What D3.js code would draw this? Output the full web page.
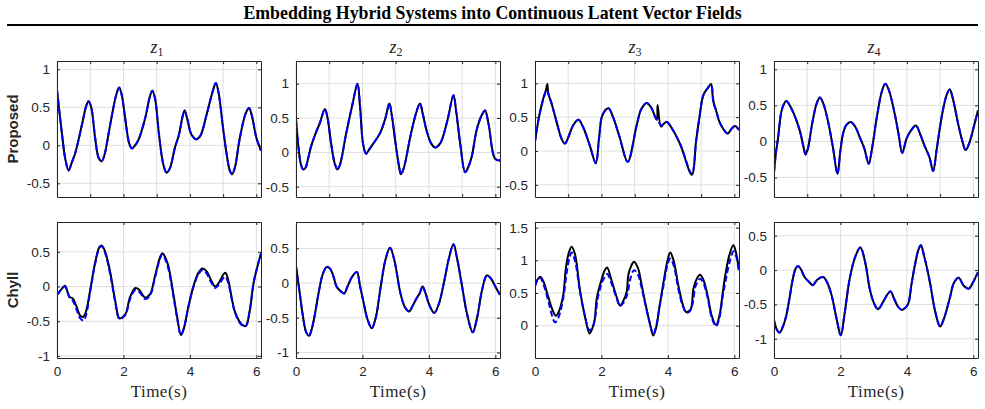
<!DOCTYPE html>
<html>
<head>
<meta charset="utf-8">
<script src="https://cdn.jsdelivr.net/npm/d3@7"></script>
<style>
  body { margin: 0; background: #fff; }
  svg { display: block; }
</style>
</head>
<body>
<div id="chart"></div>
<script>
// text
const title = "Embedding Hybrid Systems into Continuous Latent Vector Fields"
const rowNames = ["Proposed", "Chyll"]
const latentIdx = ["1", "2", "3", "4"]

// ticks
const timeTicksTop = [0, 1, 2, 3, 4, 5, 6]
const timeTicksBottom = [0, 2, 4, 6]
const yTicksTop = [[-0.5, 0, 0.5, 1], [-0.5, 0, 0.5, 1], [-0.5, 0, 0.5, 1], [-0.5, 0, 0.5, 1]]
const yTicksBottom = [[-1, -0.5, 0, 0.5], [-1, -0.5, 0, 0.5], [0, 0.5, 1, 1.5], [-1, -0.5, 0, 0.5]]
const yLimTop = [[-0.68, 1.11], [-0.65, 1.33], [-0.68, 1.33], [-0.77, 1.115]]
const yLimBottom = [[-1.03, 0.93], [-1.08, 0.88], [-0.495, 1.587], [-1.28, 0.70]]
const timeMax = 6.14

// Proposed row: ground truth [t, z]
const propTrue1 = [[0,0.73],[0.07,0.45],[0.15,0.15],[0.25,-0.18],[0.35,-0.33],[0.45,-0.22],[0.55,-0.1],[0.75,0.27],[0.88,0.52],[0.95,0.58],[1.03,0.5],[1.15,0.09],[1.25,-0.16],[1.34,-0.21],[1.42,-0.14],[1.6,0.27],[1.78,0.66],[1.87,0.76],[1.95,0.66],[2.05,0.36],[2.17,0.03],[2.25,-0.04],[2.35,0.0],[2.45,0.07],[2.65,0.35],[2.8,0.65],[2.87,0.72],[2.95,0.62],[3.07,0.14],[3.2,-0.25],[3.3,-0.36],[3.4,-0.3],[3.55,-0.03],[3.67,0.14],[3.77,0.36],[3.84,0.46],[3.92,0.35],[4.05,0.14],[4.2,0.08],[4.32,0.13],[4.5,0.40],[4.68,0.70],[4.78,0.82],[4.86,0.7],[5.0,0.22],[5.1,-0.1],[5.2,-0.33],[5.27,-0.38],[5.35,-0.3],[5.5,0.09],[5.68,0.42],[5.78,0.49],[5.86,0.4],[6.0,0.1],[6.14,-0.07]]
const propTrue2 = [[0,0.48],[0.08,0.05],[0.15,-0.18],[0.22,-0.25],[0.29,-0.22],[0.34,-0.14],[0.45,0.08],[0.57,0.25],[0.72,0.43],[0.87,0.63],[0.95,0.5],[1.05,0.15],[1.17,-0.17],[1.25,-0.25],[1.33,-0.17],[1.5,0.25],[1.7,0.7],[1.85,1.0],[1.93,0.65],[2.02,0.12],[2.11,-0.02],[2.2,0.04],[2.33,0.13],[2.53,0.28],[2.68,0.48],[2.81,0.71],[2.88,0.55],[3.0,0.12],[3.1,-0.2],[3.16,-0.32],[3.25,-0.22],[3.45,0.25],[3.62,0.58],[3.73,0.71],[3.82,0.55],[3.94,0.30],[4.08,0.12],[4.19,0.07],[4.34,0.13],[4.55,0.45],[4.74,0.83],[4.82,0.6],[4.95,0.1],[5.09,-0.29],[5.18,-0.22],[5.29,-0.06],[5.44,0.33],[5.6,0.55],[5.69,0.61],[5.8,0.4],[5.99,-0.09],[6.14,-0.12]]
const propTrue3 = [[0,0.14],[0.12,0.5],[0.25,0.78],[0.33,0.9],[0.37,0.99],[0.4,0.85],[0.5,0.7],[0.65,0.43],[0.8,0.18],[0.9,0.11],[1.0,0.2],[1.15,0.38],[1.31,0.46],[1.45,0.35],[1.65,0.08],[1.83,-0.18],[1.93,0.2],[2.03,0.53],[2.21,0.63],[2.35,0.5],[2.55,0.2],[2.79,-0.16],[3.06,0.38],[3.2,0.62],[3.36,0.71],[3.5,0.64],[3.62,0.5],[3.67,0.46],[3.69,0.68],[3.79,0.36],[3.87,0.4],[3.97,0.43],[4.1,0.35],[4.37,0.1],[4.72,-0.35],[4.85,0.15],[4.95,0.5],[5.07,0.83],[5.2,0.93],[5.3,0.99],[5.36,0.75],[5.45,0.6],[5.57,0.41],[5.8,0.26],[5.92,0.33],[6.02,0.37],[6.14,0.31]]
const propTrue4 = [[0,-0.43],[0.06,-0.15],[0.12,0.04],[0.22,0.41],[0.3,0.52],[0.37,0.56],[0.52,0.46],[0.77,0.16],[0.88,-0.06],[0.95,-0.18],[1.02,-0.1],[1.15,0.25],[1.28,0.52],[1.38,0.61],[1.48,0.53],[1.63,0.27],[1.78,-0.1],[1.91,-0.45],[2.0,-0.12],[2.08,0.11],[2.18,0.23],[2.31,0.27],[2.45,0.2],[2.58,0.06],[2.72,-0.1],[2.85,-0.31],[2.95,-0.1],[3.1,0.35],[3.25,0.7],[3.35,0.8],[3.45,0.72],[3.63,0.39],[3.75,0.1],[3.86,-0.16],[3.99,0.04],[4.12,0.15],[4.27,0.22],[4.4,0.1],[4.54,-0.07],[4.68,-0.22],[4.79,-0.41],[4.9,-0.1],[5.05,0.35],[5.2,0.65],[5.29,0.72],[5.38,0.6],[5.54,0.25],[5.66,0.02],[5.77,-0.12],[5.88,-0.02],[6.0,0.18],[6.14,0.43]]

// Proposed row: prediction (only z3 differs visibly from truth)
const propPred3 = [[0,0.14],[0.12,0.5],[0.25,0.76],[0.35,0.9],[0.42,0.82],[0.5,0.7],[0.65,0.43],[0.8,0.18],[0.9,0.11],[1.0,0.2],[1.15,0.38],[1.31,0.46],[1.45,0.35],[1.65,0.08],[1.83,-0.18],[1.93,0.2],[2.03,0.53],[2.21,0.63],[2.35,0.5],[2.55,0.2],[2.79,-0.16],[3.06,0.38],[3.2,0.62],[3.36,0.71],[3.5,0.64],[3.62,0.5],[3.7,0.44],[3.8,0.38],[3.9,0.42],[3.97,0.43],[4.1,0.35],[4.37,0.1],[4.72,-0.33],[4.85,0.15],[4.95,0.5],[5.07,0.83],[5.2,0.93],[5.3,0.97],[5.38,0.7],[5.45,0.6],[5.57,0.41],[5.8,0.26],[5.92,0.33],[6.02,0.37],[6.14,0.31]]

// Chyll row: ground truth
const chyTrue1 = [[0,-0.12],[0.1,-0.06],[0.24,0.01],[0.32,-0.08],[0.38,-0.15],[0.47,-0.17],[0.58,-0.28],[0.7,-0.42],[0.78,-0.44],[0.86,-0.38],[1.0,-0.05],[1.15,0.35],[1.28,0.57],[1.35,0.59],[1.45,0.5],[1.6,0.21],[1.75,-0.2],[1.88,-0.46],[2.0,-0.43],[2.08,-0.38],[2.2,-0.15],[2.36,-0.02],[2.48,-0.05],[2.65,-0.16],[2.8,-0.11],[2.95,0.15],[3.1,0.42],[3.17,0.48],[3.25,0.43],[3.35,0.3],[3.5,-0.1],[3.62,-0.45],[3.73,-0.70],[3.82,-0.6],[3.95,-0.3],[4.11,0.01],[4.26,0.2],[4.38,0.26],[4.5,0.22],[4.65,0.08],[4.76,0.0],[4.88,0.06],[5.0,0.17],[5.07,0.2],[5.15,0.1],[5.36,-0.37],[5.55,-0.54],[5.68,-0.57],[5.8,-0.35],[5.92,0.06],[6.05,0.32],[6.14,0.48]]
const chyTrue2 = [[0,0.24],[0.1,-0.1],[0.2,-0.45],[0.3,-0.7],[0.39,-0.76],[0.48,-0.65],[0.58,-0.42],[0.67,-0.17],[0.8,0.12],[0.92,0.23],[1.0,0.22],[1.07,0.17],[1.15,0.06],[1.22,-0.05],[1.35,-0.12],[1.45,-0.15],[1.55,-0.05],[1.7,0.1],[1.83,0.16],[1.93,-0.05],[2.03,-0.27],[2.15,-0.52],[2.28,-0.65],[2.4,-0.5],[2.55,-0.05],[2.7,0.35],[2.83,0.51],[2.95,0.35],[3.05,0.1],[3.13,-0.12],[3.28,-0.35],[3.4,-0.41],[3.52,-0.32],[3.63,-0.22],[3.72,-0.15],[3.81,-0.05],[3.9,-0.15],[4.0,-0.3],[4.16,-0.43],[4.3,-0.3],[4.45,0.0],[4.6,0.35],[4.74,0.56],[4.85,0.35],[5.0,-0.05],[5.15,-0.45],[5.32,-0.71],[5.45,-0.5],[5.6,-0.1],[5.74,0.11],[5.82,0.09],[5.89,0.05],[6.0,-0.05],[6.14,-0.17]]
const chyTrue3 = [[0,0.61],[0.08,0.71],[0.16,0.75],[0.25,0.68],[0.4,0.44],[0.52,0.25],[0.63,0.15],[0.72,0.22],[0.85,0.47],[0.93,0.88],[1.02,1.12],[1.1,1.21],[1.2,1.1],[1.36,0.52],[1.5,0.15],[1.64,-0.12],[1.72,-0.05],[1.79,0.07],[1.86,0.42],[2.0,0.7],[2.1,0.85],[2.17,0.89],[2.3,0.7],[2.45,0.45],[2.56,0.31],[2.66,0.38],[2.76,0.52],[2.81,0.78],[2.9,0.92],[2.98,0.98],[3.1,0.88],[3.2,0.65],[3.31,0.37],[3.45,0.05],[3.56,-0.15],[3.65,-0.02],[3.75,0.3],[3.87,0.67],[3.98,0.98],[4.07,1.12],[4.17,1.0],[4.32,0.6],[4.45,0.32],[4.54,0.21],[4.62,0.22],[4.7,0.27],[4.77,0.57],[4.87,0.72],[4.97,0.78],[5.07,0.7],[5.2,0.45],[5.32,0.15],[5.45,0.01],[5.55,0.15],[5.65,0.5],[5.72,0.75],[5.85,1.08],[5.97,1.23],[6.05,1.12],[6.14,0.85]]
const chyTrue4 = [[0,-0.73],[0.08,-0.86],[0.17,-0.91],[0.27,-0.82],[0.37,-0.66],[0.47,-0.4],[0.57,-0.12],[0.65,0.02],[0.72,0.06],[0.8,0.02],[0.92,-0.1],[1.05,-0.17],[1.17,-0.22],[1.3,-0.14],[1.48,-0.10],[1.6,-0.18],[1.73,-0.36],[1.88,-0.7],[2.01,-0.95],[2.12,-0.65],[2.28,-0.12],[2.45,0.2],[2.6,0.33],[2.75,0.1],[2.88,-0.27],[3.0,-0.47],[3.13,-0.57],[3.3,-0.45],[3.42,-0.35],[3.51,-0.31],[3.6,-0.4],[3.73,-0.53],[3.85,-0.58],[3.95,-0.55],[4.04,-0.49],[4.14,-0.2],[4.24,0.07],[4.35,0.3],[4.42,0.36],[4.52,0.2],[4.69,-0.17],[4.85,-0.6],[5.0,-0.82],[5.12,-0.7],[5.29,-0.41],[5.42,-0.18],[5.56,-0.11],[5.7,-0.22],[5.86,-0.27],[6.0,-0.17],[6.14,-0.03]]

// Chyll row: prediction (z1 and z3 differ visibly)
const chyPred1 = [[0,-0.12],[0.1,-0.06],[0.24,0.0],[0.32,-0.09],[0.38,-0.16],[0.47,-0.2],[0.58,-0.32],[0.7,-0.46],[0.8,-0.49],[0.88,-0.4],[1.0,-0.07],[1.15,0.33],[1.28,0.56],[1.35,0.58],[1.45,0.48],[1.6,0.18],[1.75,-0.22],[1.88,-0.47],[2.0,-0.44],[2.08,-0.39],[2.2,-0.18],[2.36,-0.05],[2.48,-0.08],[2.65,-0.18],[2.8,-0.13],[2.95,0.13],[3.1,0.4],[3.17,0.46],[3.25,0.4],[3.35,0.26],[3.5,-0.13],[3.62,-0.47],[3.73,-0.70],[3.82,-0.6],[3.95,-0.3],[4.11,0.0],[4.26,0.18],[4.38,0.24],[4.5,0.19],[4.65,0.05],[4.76,-0.02],[4.88,0.03],[5.0,0.12],[5.07,0.14],[5.15,0.06],[5.36,-0.38],[5.55,-0.55],[5.68,-0.57],[5.8,-0.35],[5.92,0.06],[6.05,0.32],[6.14,0.47]]
const chyPred3 = [[0,0.6],[0.08,0.7],[0.16,0.73],[0.25,0.64],[0.4,0.38],[0.52,0.14],[0.6,0.05],[0.7,0.12],[0.85,0.42],[0.95,0.8],[1.03,1.02],[1.1,1.12],[1.2,1.0],[1.36,0.5],[1.5,0.15],[1.64,-0.07],[1.75,0.0],[1.82,0.15],[1.9,0.45],[2.05,0.7],[2.17,0.79],[2.3,0.65],[2.45,0.43],[2.56,0.3],[2.66,0.35],[2.78,0.48],[2.86,0.7],[2.98,0.85],[3.1,0.78],[3.2,0.6],[3.31,0.35],[3.45,0.05],[3.56,-0.13],[3.65,0.0],[3.75,0.3],[3.88,0.65],[3.98,0.92],[4.07,1.03],[4.17,0.93],[4.32,0.55],[4.45,0.3],[4.56,0.2],[4.66,0.22],[4.75,0.35],[4.83,0.6],[4.97,0.72],[5.07,0.65],[5.2,0.42],[5.32,0.12],[5.45,-0.01],[5.55,0.12],[5.65,0.45],[5.75,0.72],[5.87,1.0],[5.98,1.14],[6.06,1.05],[6.14,0.82]]

const rows = [
    {truth: [propTrue1, propTrue2, propTrue3, propTrue4],
     pred: [propTrue1, propTrue2, propPred3, propTrue4],
     ylim: yLimTop, yticks: yTicksTop, xticks: timeTicksTop},
    {truth: [chyTrue1, chyTrue2, chyTrue3, chyTrue4],
     pred: [chyPred1, chyTrue2, chyPred3, chyTrue4],
     ylim: yLimBottom, yticks: yTicksBottom, xticks: timeTicksBottom}
]

const width = 985, height = 409
const panelW = 204, panelH = 136
const lefts = [57, 296, 535, 774]
const tops = [61, 222]
const axisColor = "#262626"
const sans = "'Liberation Sans', Arial, Helvetica, sans-serif"
const serif = "'Liberation Serif', 'Times New Roman', serif"

const svg = d3.select("#chart")
    .append("svg")
    .attr("width", width)
    .attr("height", height)

// title and rule
svg.append("text")
    .attr("x", 492.5)
    .attr("y", 19)
    .attr("text-anchor", "middle")
    .style("font-family", serif)
    .style("font-weight", "bold")
    .style("font-size", "17.8px")
    .text(title)
svg.append("line")
    .attr("x1", 7).attr("x2", 978)
    .attr("y1", 25).attr("y2", 25)
    .attr("stroke", "#000")
    .attr("stroke-width", 2)

const x = d3.scaleLinear().domain([0, timeMax]).range([0, panelW])

rows.forEach((row, r) => {
    // row label
    svg.append("text")
        .attr("transform", `translate(18,${tops[r] + panelH / 2}) rotate(-90)`)
        .attr("text-anchor", "middle")
        .style("font-family", sans)
        .style("font-weight", "bold")
        .style("font-size", "15px")
        .attr("fill", axisColor)
        .text(rowNames[r])

    for (let c = 0; c < 4; c++) {
        const g = svg.append("g")
            .attr("transform", `translate(${lefts[c]},${tops[r]})`)

        const y = d3.scaleLinear().domain(row.ylim[c]).range([panelH, 0])

        // grid
        g.append("g").selectAll("line")
            .data(row.xticks)
            .join("line")
            .attr("x1", d => x(d)).attr("x2", d => x(d))
            .attr("y1", 0).attr("y2", panelH)
            .attr("stroke", "#dfdfdf")
        g.append("g").selectAll("line")
            .data(row.yticks[c])
            .join("line")
            .attr("x1", 0).attr("x2", panelW)
            .attr("y1", d => y(d)).attr("y2", d => y(d))
            .attr("stroke", "#dfdfdf")

        // series
        const clipId = `clip-${r}-${c}`
        g.append("clipPath").attr("id", clipId)
            .append("rect").attr("width", panelW).attr("height", panelH)
        const line = d3.line()
            .x(d => x(d[0]))
            .y(d => y(d[1]))
            .curve(d3.curveCatmullRom.alpha(0.5))
        g.append("path")
            .datum(row.truth[c])
            .attr("clip-path", `url(#${clipId})`)
            .attr("fill", "none")
            .attr("stroke", "#000")
            .attr("stroke-width", 2)
            .attr("d", line)
        g.append("path")
            .datum(row.pred[c])
            .attr("clip-path", `url(#${clipId})`)
            .attr("fill", "none")
            .attr("stroke", "#0000ff")
            .attr("stroke-width", 2)
            .attr("stroke-dasharray", "6,3")
            .attr("d", line)

        // axes, ticks pointing inward
        g.append("g")
            .call(d3.axisLeft(y).tickValues(row.yticks[c]).tickSizeInner(-3).tickSizeOuter(0)
                .tickPadding(7).tickFormat(d => String(d)))
        g.append("g")
            .attr("transform", `translate(${panelW},0)`)
            .call(d3.axisRight(y).tickValues(row.yticks[c]).tickSizeInner(-3).tickSizeOuter(0).tickFormat(""))
        g.append("g")
            .call(d3.axisTop(x).tickValues(row.xticks).tickSizeInner(-3).tickSizeOuter(0).tickFormat(""))
        g.append("g")
            .attr("transform", `translate(0,${panelH})`)
            .call(d3.axisBottom(x).tickValues(row.xticks).tickSizeInner(-3).tickSizeOuter(0)
                .tickPadding(8).tickFormat(r === 1 ? (d => String(d)) : ""))

        g.selectAll(".domain, .tick line").attr("stroke", axisColor)
        g.selectAll(".tick text")
            .attr("fill", axisColor)
            .style("font-family", sans)
            .style("font-size", "13.5px")

        // z_i titles on top row, time label on bottom row
        if (r === 0) {
            const t = g.append("text")
                .attr("x", panelW / 2 - 2)
                .attr("y", -8)
                .attr("text-anchor", "middle")
                .style("font-family", serif)
                .style("font-size", "18px")
                .attr("fill", axisColor)
            t.append("tspan").style("font-style", "italic").text("z")
            t.append("tspan").attr("dy", 3).style("font-size", "12px").text(latentIdx[c])
        } else {
            g.append("text")
                .attr("x", panelW / 2)
                .attr("y", panelH + 39)
                .attr("text-anchor", "middle")
                .style("font-family", serif)
                .style("font-size", "17px")
                .style("letter-spacing", "0.5px")
                .attr("fill", axisColor)
                .text("Time(s)")
        }
    }
})
</script>
</body>
</html>
